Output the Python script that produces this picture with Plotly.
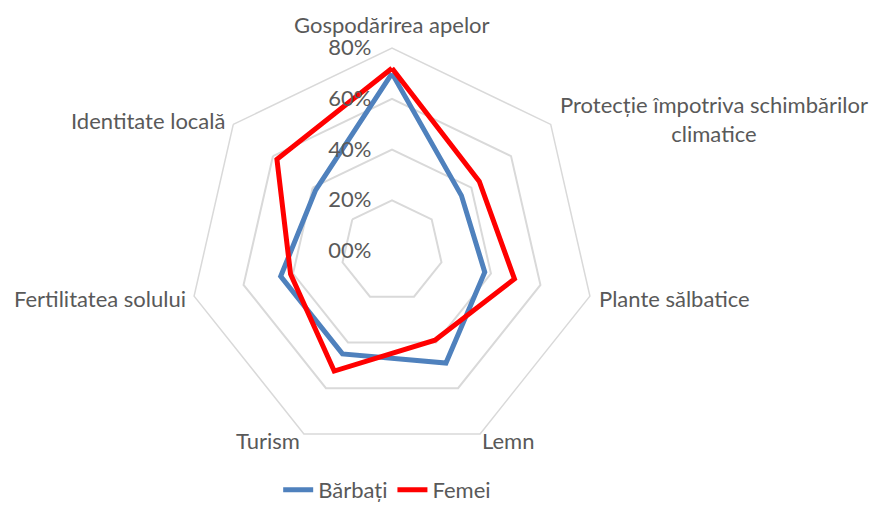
import plotly.graph_objects as go

categorias = ['Gospodărirea apelor', 'Protecție împotriva schimbărilor<br>climatice',
              'Plante sălbatice', 'Lemn', 'Turism', 'Fertilitatea solului', 'Identitate locală']
barbati = [0.70, 0.35, 0.375, 0.49, 0.45, 0.45, 0.385]
femei = [0.72, 0.44, 0.495, 0.39, 0.525, 0.41, 0.58]
tick_vals = [0, 0.2, 0.4, 0.6, 0.8]
tick_text = ['00%', '20%', '40%', '60%', '80%']

gris = '#595959'
W, H = 874, 511

fig = go.Figure()

# cerrar los poligonos repitiendo el primer punto
fig.add_trace(go.Scatterpolar(
    r=barbati + barbati[:1],
    theta=categorias + categorias[:1],
    mode='lines',
    name='Bărbați',
    line=dict(color='#4F81BD', width=5),
))
fig.add_trace(go.Scatterpolar(
    r=femei + femei[:1],
    theta=categorias + categorias[:1],
    mode='lines',
    name='Femei',
    line=dict(color='#FF0000', width=5),
))

# etiquetas de categoria como en Excel (centradas, fuera del heptagono)
pos_etiquetas = [(392, 25), (714, 119), (674, 298), (508, 440), (268, 440), (100, 298), (148, 120)]
for txt, (px, py) in zip(categorias, pos_etiquetas):
    fig.add_annotation(
        text=txt, x=px / W, y=1 - py / H, xref='paper', yref='paper',
        xanchor='center', yanchor='middle', align='center', showarrow=False,
        font=dict(size=22, color=gris),
    )

fig.update_layout(
    width=W, height=H,
    margin=dict(l=0, r=0, t=0, b=0),
    paper_bgcolor='white',
    font=dict(family='Lato', size=22, color=gris),
    polar=dict(
        domain=dict(x=[189 / W, 595 / W], y=[57 / H, 463 / H]),
        gridshape='linear',
        bgcolor='white',
        radialaxis=dict(
            range=[0, 0.8],
            tickvals=tick_vals,
            # espacios duros para separar las etiquetas del eje, como en Excel
            ticktext=[t + '\u00a0' * 3 for t in tick_text],
            angle=90,
            tickangle=90,
            side='counterclockwise',
            showline=False,
            ticks='',
            gridcolor='#D9D9D9',
            gridwidth=1.5,
            tickfont=dict(size=22, color=gris),
        ),
        angularaxis=dict(
            direction='clockwise',
            rotation=90,
            showgrid=False,
            showline=True,
            linecolor='#D9D9D9',
            linewidth=1.5,
            ticks='',
            showticklabels=False,
        ),
    ),
    showlegend=True,
    legend=dict(
        orientation='h',
        x=0.443, xanchor='center',
        y=0, yanchor='bottom',
        font=dict(size=22, color=gris),
    ),
)

fig.write_html('out.html', config={'displayModeBar': False},
               post_script="document.body.style.margin = '0px';")
